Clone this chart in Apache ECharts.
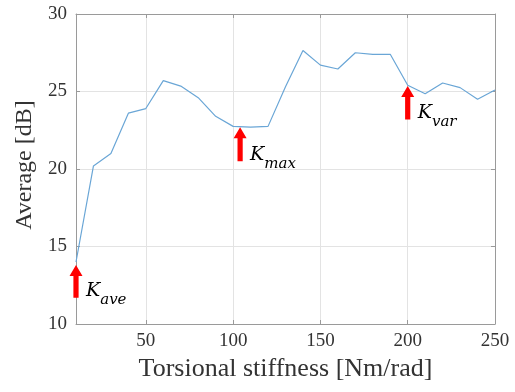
<!DOCTYPE html>
<html>
<head>
<meta charset="utf-8">
<script src="https://cdn.jsdelivr.net/npm/echarts@6/dist/echarts.min.js"></script>
<style>html,body{margin:0;padding:0;background:#fff;}#c{width:515px;height:392px;}</style>
</head>
<body>
<div id="c"></div>
<script>
var stiffness = [10,20,30,40,50,60,70,80,90,100,110,120,130,140,150,160,170,180,190,200,210,220,230,240,250];
var average = [14.0,20.2,21.0,23.6,23.9,25.7,25.35,24.6,23.4,22.75,22.7,22.75,25.3,27.65,26.7,26.45,27.5,27.4,27.4,25.4,24.85,25.55,25.25,24.5,25.1];
var xTicks = [50,100,150,200,250];
var yTicks = [10,15,20,25,30];
var arrowX = [10,104,200];
var arrowTip = [13.8,22.7,25.35];
var arrowTail = [11.7,20.5,23.2];
var arrowSub = ['ave','max','var'];

var serif = '"Liberation Serif", "DejaVu Serif", serif';
var mathSerif = '"DejaVu Serif", "Liberation Serif", serif';
var gridColor = '#e3e3e3';
var axisColor = '#9a9a9a';
var textColor = '#333';

var arrowData = arrowX.map(function(x,i){ return [x, arrowTip[i], arrowTail[i], i]; });

var chart = echarts.init(document.getElementById('c'), null, {renderer:'canvas'});
chart.setOption({
  animation: false,
  grid: {left: 76, right: 20, top: 14, bottom: 68, containLabel: false},
  xAxis: [{
    type: 'value', min: 10, max: 250, position: 'bottom',
    name: 'Torsional stiffness [Nm/rad]', nameLocation: 'middle', nameGap: 32,
    nameTextStyle: {fontFamily: serif, fontSize: 26, color: textColor},
    axisLine: {show: true, onZero: false, lineStyle: {color: axisColor, width: 1}},
    axisTick: {show: true, inside: true, length: 4, customValues: xTicks, lineStyle: {color: axisColor}},
    axisLabel: {customValues: xTicks, margin: 8, fontFamily: serif, fontSize: 19, color: textColor},
    splitLine: {show: true, customValues: xTicks, lineStyle: {color: gridColor, width: 1}}
  }, {
    type: 'value', min: 10, max: 250, position: 'top',
    axisLine: {show: true, onZero: false, lineStyle: {color: axisColor, width: 1}},
    axisTick: {show: true, inside: true, length: 4, customValues: xTicks, lineStyle: {color: axisColor}},
    axisLabel: {show: false},
    splitLine: {show: false}
  }],
  yAxis: [{
    type: 'value', min: 10, max: 30, interval: 5, position: 'left',
    name: 'Average [dB]', nameLocation: 'middle', nameGap: 32, nameRotate: 90,
    nameTextStyle: {fontFamily: serif, fontSize: 24, color: textColor, padding: [0,0,0,8]},
    axisLine: {show: true, onZero: false, lineStyle: {color: axisColor, width: 1}},
    axisTick: {show: true, inside: true, length: 4, lineStyle: {color: axisColor}},
    axisLabel: {margin: 9, fontFamily: serif, fontSize: 19, color: textColor},
    splitLine: {show: true, lineStyle: {color: gridColor, width: 1}}
  }, {
    type: 'value', min: 10, max: 30, interval: 5, position: 'right',
    axisLine: {show: true, onZero: false, lineStyle: {color: axisColor, width: 1}},
    axisTick: {show: true, inside: true, length: 4, lineStyle: {color: axisColor}},
    axisLabel: {show: false},
    splitLine: {show: false}
  }],
  series: [{
    type: 'line',
    data: stiffness.map(function(x,i){ return [x, average[i]]; }),
    showSymbol: false, symbol: 'none',
    lineStyle: {color: '#6aa6d6', width: 1.2},
    z: 2
  }, {
    type: 'custom',
    data: arrowData,
    z: 5,
    clip: false,
    renderItem: function(params, api){
      var tip = api.coord([api.value(0), api.value(1)]);
      var tail = api.coord([api.value(0), api.value(2)]);
      var x = tip[0], ty = tip[1], by = tail[1];
      var hh = 11, hw = 6.5, sw = 2.6;
      var sub = arrowSub[api.value(3)];
      return {
        type: 'group',
        children: [{
          type: 'polygon',
          shape: {points: [[x,ty],[x+hw,ty+hh],[x+sw,ty+hh],[x+sw,by],[x-sw,by],[x-sw,ty+hh],[x-hw,ty+hh]]},
          style: {fill: '#ff0000'}
        }, {
          type: 'text',
          x: x + 10, y: by - 16,
          style: {
            text: '{k|K}{s|' + sub + '}',
            verticalAlign: 'top', align: 'left',
            rich: {
              k: {fontFamily: mathSerif, fontStyle: 'italic', fontSize: 19, color: '#111', verticalAlign: 'top'},
              s: {fontFamily: mathSerif, fontStyle: 'italic', fontSize: 15, color: '#111', verticalAlign: 'top', padding: [11,0,0,0]}
            }
          }
        }]
      };
    }
  }]
});
</script>
</body>
</html>
